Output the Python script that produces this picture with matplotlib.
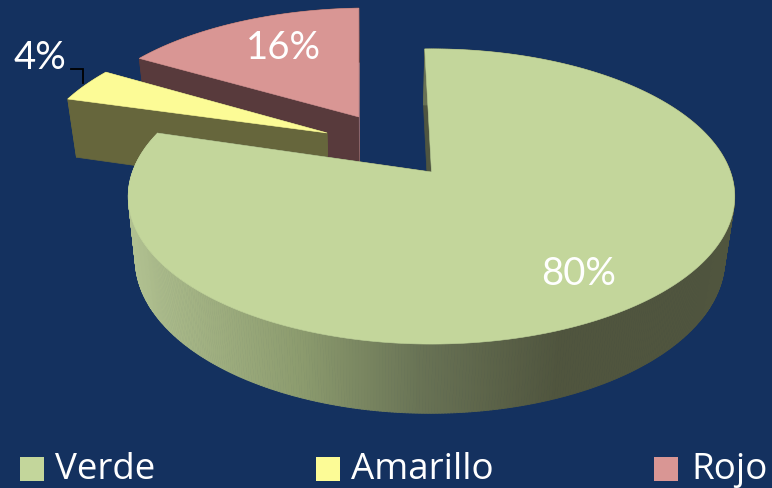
import numpy as np
import matplotlib
matplotlib.use("Agg")
import matplotlib.pyplot as plt
from matplotlib.patches import Polygon, Rectangle
from matplotlib.collections import PolyCollection

# ---- data ----
categories = ["Verde", "Amarillo", "Rojo"]
shares = [80, 4, 16]
labels = ["80%", "4%", "16%"]

# ---- style / layout ----
BG = "#14315F"
top_colors = ["#C3D69B", "#FCFB96", "#D99694"]
wall_colors = [None, "#66663C", "#583A3C"]
cut_first = ["#4F5540", "#66663C", "#583A3C"]
cut_last = ["#4F5540", "#66663C", "#A97A7C"]
offsets = [(0.0, 0.0), (-0.366, 0.285), (-0.26, 0.41)]
rotations = [1.5, 2.3, 2.3]
CX, CY, A, B, K = 431.5, 173.0, 143.5, 299.0, 0.166
BOT_CX, BOT_CY, BOT_XS, BOT_YS = 430.0, 234.5, 0.972, 1.045
label_xy = [(579, 274), (40, 58), (283, 48)]
legend_x = [20, 316, 654]
legend_tx = [55, 351, 691]

grad_x = [130, 300, 420, 560, 740]
grad_r = [176, 140, 105, 80, 80]
grad_g = [192, 155, 115, 85, 85]
grad_b = [144, 110, 85, 62, 62]


def project(u, v, bottom=False):
    w = 1 + K * v
    x = B * u / w
    y = A * v / w
    if bottom:
        return BOT_CX + BOT_XS * x, BOT_CY - BOT_YS * y
    return CX + x, CY - y


def grad(x):
    return (np.interp(x, grad_x, grad_r) / 255,
            np.interp(x, grad_x, grad_g) / 255,
            np.interp(x, grad_x, grad_b) / 255)


fig = plt.figure(figsize=(7.72, 4.89), dpi=100, facecolor=BG)
ax = fig.add_axes([0, 0, 1, 1])
ax.set_xlim(0, 772)
ax.set_ylim(489, 0)
ax.axis("off")
plt.rcParams["font.family"] = ["Lato", "DejaVu Sans"]

# clockwise from 12 o'clock
edges = 90 - np.cumsum([0] + shares) * 3.6
for i in [2, 1, 0]:
    start, end = edges[i] + rotations[i], edges[i + 1] + rotations[i]
    t = np.radians(np.linspace(start, end, max(8, int(abs(end - start)) * 2)))
    ou, ov = offsets[i]
    u, v = ou + np.cos(t), ov + np.sin(t)
    tx, ty = project(u, v)
    bx, by = project(u, v, True)
    ax0, ay0 = project(ou, ov)
    bx0, by0 = project(ou, ov, True)
    base = i * -3 + 10

    # flat cut walls: the light end-edge wall lies beneath the start-edge wall
    for j, col, dz in ((-1, cut_last[i], 0.0), (0, cut_first[i], 0.1)):
        ax.add_patch(Polygon([(ax0, ay0), (tx[j], ty[j]), (bx[j], by[j]), (bx0, by0)],
                             closed=True, fc=col, ec=col, lw=0.5, zorder=base + dz))

    # curved outer wall
    quads, cols = [], []
    for k in range(len(t) - 1):
        quads.append([(tx[k], ty[k]), (tx[k + 1], ty[k + 1]), (bx[k + 1], by[k + 1]), (bx[k], by[k])])
        cols.append(wall_colors[i] if wall_colors[i] else grad((tx[k] + tx[k + 1]) / 2))
    ax.add_collection(PolyCollection(quads, facecolors=cols, edgecolors=cols, linewidths=0.6,
                                     zorder=base + 0.5))

    # top face
    ax.add_patch(Polygon(np.column_stack([np.r_[ax0, tx], np.r_[ay0, ty]]), closed=True,
                         fc=top_colors[i], ec=top_colors[i], lw=0.4, zorder=base + 1))

for i, lab in enumerate(labels):
    ax.text(*label_xy[i], lab, color="white", fontsize=27.5, ha="center", va="center", zorder=20)

ax.plot([71, 82.5, 82.5], [70, 70, 84], color="black", lw=1.3, zorder=6, solid_joinstyle="miter")

for i, name in enumerate(categories):
    ax.add_patch(Rectangle((legend_x[i], 458), 24, 24, fc=top_colors[i], ec="none", zorder=20))
    ax.text(legend_tx[i], 470, name, color="white", fontsize=26.5, ha="left", va="center",
            family=["Open Sans", "DejaVu Sans"], zorder=20)

fig.savefig("out.png", dpi=100, facecolor=BG)
